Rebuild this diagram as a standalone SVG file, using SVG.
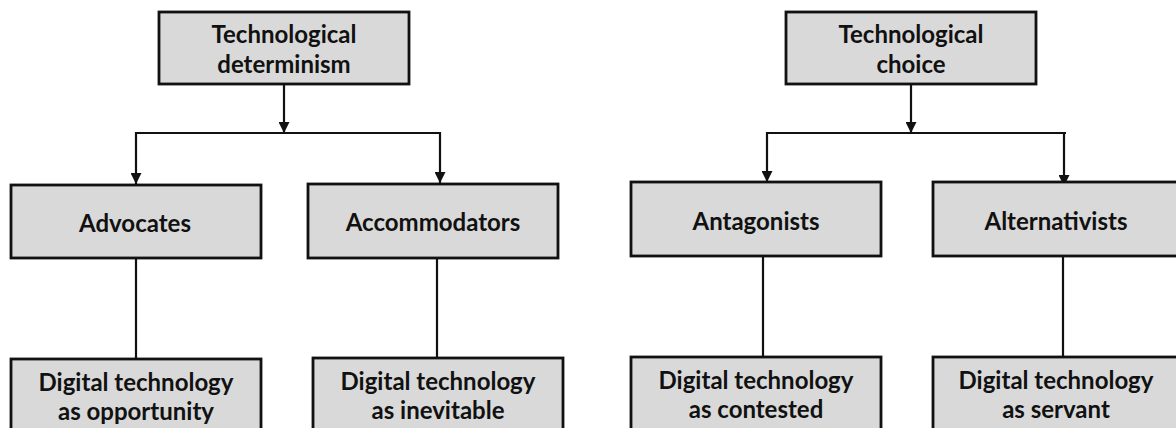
<svg xmlns="http://www.w3.org/2000/svg" width="1176" height="428" viewBox="0 0 1176 428">
  <defs>
    <style>
      .box { fill: #d9d9d9; stroke: #111; stroke-width: 2.8; }
      .lbl { font-family: Lato, "Liberation Sans", sans-serif; font-weight: 700; font-size: 24px; fill: #111; text-anchor: middle; dominant-baseline: central; }
      .conn { fill: none; stroke: #111; stroke-width: 2.2; }
    </style>
    <marker id="arr" viewBox="0 0 10 10" refX="10" refY="5" markerWidth="11" markerHeight="11" markerUnits="userSpaceOnUse" orient="auto">
      <path d="M0,0 L10,5 L0,10 z" fill="#111"/>
    </marker>
  </defs>
  <rect width="1176" height="428" fill="#fff"/>

  <g id="connectors">
    <line class="conn" x1="284" y1="84" x2="284" y2="133" marker-end="url(#arr)"/>
    <line class="conn" x1="136" y1="133" x2="440" y2="133"/>
    <line class="conn" x1="136" y1="132" x2="136" y2="184" marker-end="url(#arr)"/>
    <line class="conn" x1="440" y1="132" x2="440" y2="183" marker-end="url(#arr)"/>
    <line class="conn" x1="136" y1="258" x2="136" y2="359"/>
    <line class="conn" x1="437" y1="258" x2="437" y2="358"/>

    <line class="conn" x1="911" y1="84" x2="911" y2="133" marker-end="url(#arr)"/>
    <line class="conn" x1="767" y1="133" x2="1066" y2="133"/>
    <line class="conn" x1="767" y1="132" x2="767" y2="182" marker-end="url(#arr)"/>
    <line class="conn" x1="1064" y1="134" x2="1064" y2="186" marker-end="url(#arr)"/>
    <line class="conn" x1="763" y1="256" x2="763" y2="357"/>
    <line class="conn" x1="1063" y1="256" x2="1063" y2="357"/>
  </g>

  <g id="tech-determinism">
    <rect class="box" x="159" y="12" width="250" height="72"/>
    <text class="lbl" x="284" y="33">Technological</text>
    <text class="lbl" x="284" y="63">determinism</text>
  </g>
  <g id="tech-choice">
    <rect class="box" x="786" y="12" width="250" height="72"/>
    <text class="lbl" x="911" y="33">Technological</text>
    <text class="lbl" x="911" y="63">choice</text>
  </g>

  <g id="advocates">
    <rect class="box" x="11" y="185" width="250" height="73"/>
    <text class="lbl" x="135" y="222">Advocates</text>
  </g>
  <g id="accommodators">
    <rect class="box" x="308" y="184" width="250" height="74"/>
    <text class="lbl" x="433" y="221">Accommodators</text>
  </g>
  <g id="antagonists">
    <rect class="box" x="631" y="182" width="250" height="74"/>
    <text class="lbl" x="756" y="220">Antagonists</text>
  </g>
  <g id="alternativists">
    <rect class="box" x="933" y="182" width="260" height="74"/>
    <text class="lbl" x="1056" y="220">Alternativists</text>
  </g>

  <g id="opportunity">
    <rect class="box" x="11" y="359" width="250" height="80"/>
    <text class="lbl" x="136" y="381">Digital technology</text>
    <text class="lbl" x="136" y="410">as opportunity</text>
  </g>
  <g id="inevitable">
    <rect class="box" x="313" y="358" width="250" height="80"/>
    <text class="lbl" x="438" y="380">Digital technology</text>
    <text class="lbl" x="438" y="409">as inevitable</text>
  </g>
  <g id="contested">
    <rect class="box" x="631" y="357" width="250" height="80"/>
    <text class="lbl" x="756" y="379">Digital technology</text>
    <text class="lbl" x="756" y="408">as contested</text>
  </g>
  <g id="servant">
    <rect class="box" x="933" y="357" width="260" height="80"/>
    <text class="lbl" x="1056" y="379">Digital technology</text>
    <text class="lbl" x="1056" y="408">as servant</text>
  </g>
</svg>
